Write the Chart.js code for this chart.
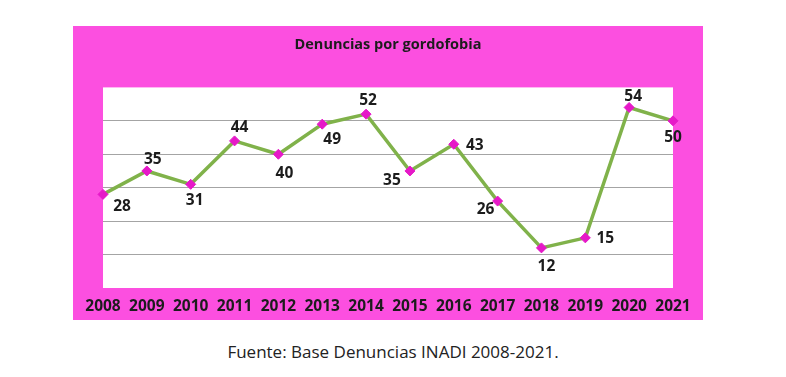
<!DOCTYPE html>
<html>
<head>
<meta charset="utf-8">
<script src="https://cdn.jsdelivr.net/npm/chart.js@4"></script>
<style>
  html, body { margin: 0; padding: 0; background: #fff; }
  body { width: 786px; height: 377px; position: relative; overflow: hidden; }
  #box {
    position: absolute; left: 73px; top: 26px;
    width: 630px; height: 294px; background: #fc4fe0;
  }
  #caption {
    position: absolute; left: 0; width: 786px; top: 340px;
    text-align: center; font: 17px "Open Sans", sans-serif; color: #222;
  }
</style>
</head>
<body>
<div id="box"><canvas id="chart" width="630" height="294"></canvas></div>
<div id="caption">Fuente: Base Denuncias INADI 2008-2021.</div>
<script>
// Datos
const years = ["2008", "2009", "2010", "2011", "2012", "2013", "2014",
  "2015", "2016", "2017", "2018", "2019", "2020", "2021"];
const denuncias = [28, 35, 31, 44, 40, 49, 52, 35, 43, 26, 12, 15, 54, 50];
const chartTitle = "Denuncias por gordofobia";

// posicion de cada etiqueta respecto al punto (dx, dy)
const labelOffsets = [
  [19, 12], [6, -11], [4, 16], [5, -13], [6, 19], [10, 15], [2, -14],
  [-18, 10], [21, 1], [-12, 9], [5, 19], [20, 1], [4, -11], [0, 17],
];

const textColor = "#1c1c1c";
const fontFamily = "'Open Sans', sans-serif";

const valueLabels = {
  id: "valueLabels",
  afterDatasetsDraw(chart) {
    const ctx = chart.ctx;
    const meta = chart.getDatasetMeta(0);
    ctx.save();
    ctx.font = "bold 15.5px " + fontFamily;
    ctx.fillStyle = textColor;
    ctx.textAlign = "center";
    ctx.textBaseline = "middle";
    meta.data.forEach((pt, i) => {
      const off = labelOffsets[i];
      ctx.fillText(String(denuncias[i]), pt.x + off[0], pt.y + off[1]);
    });
    ctx.restore();
  },
};

const ctx = document.getElementById("chart").getContext("2d");
new Chart(ctx, {
  type: "line",
  data: {
    labels: years,
    datasets: [
      {
        data: denuncias,
        borderColor: "#80b24a",
        borderWidth: 3.5,
        pointStyle: "rectRot",
        pointRadius: 5,
        pointBackgroundColor: "#e619c8",
        pointBorderColor: "#e619c8",
        pointBorderWidth: 1,
        tension: 0,
        clip: false,
      },
    ],
  },
  options: {
    responsive: false,
    animation: false,
    layout: { padding: { left: 30, right: 30, top: 0, bottom: 5 } },
    plugins: {
      legend: { display: false },
      tooltip: { enabled: false },
      title: {
        display: true,
        text: chartTitle,
        color: textColor,
        font: { family: fontFamily, size: 14.5, weight: "bold" },
        padding: { top: 10, bottom: 34 },
      },
    },
    scales: {
      x: {
        offset: false,
        grid: { display: false, drawTicks: false },
        border: { display: false },
        ticks: {
          color: textColor,
          padding: 9,
          maxRotation: 0,
          autoSkip: false,
          font: { family: fontFamily, size: 15.5, weight: "bold" },
        },
        afterFit: (scale) => {
          scale.height = 27;
        },
      },
      y: {
        min: 0,
        max: 60,
        grid: {
          drawTicks: false,
          lineWidth: 1,
          color: (c) => (c.tick && (c.tick.value === 0 || c.tick.value === 60)) ? "rgba(0,0,0,0)" : "#a4a4a4",
        },
        border: { display: false },
        ticks: { display: false, stepSize: 10 },
      },
    },
  },
  plugins: [
    {
      id: "whiteArea",
      beforeDraw(chart) {
        const a = chart.chartArea;
        chart.ctx.save();
        chart.ctx.fillStyle = "#ffffff";
        chart.ctx.fillRect(a.left, a.top, a.right - a.left, a.bottom - a.top);
        chart.ctx.restore();
      },
    },
    valueLabels,
  ],
});
</script>
</body>
</html>
